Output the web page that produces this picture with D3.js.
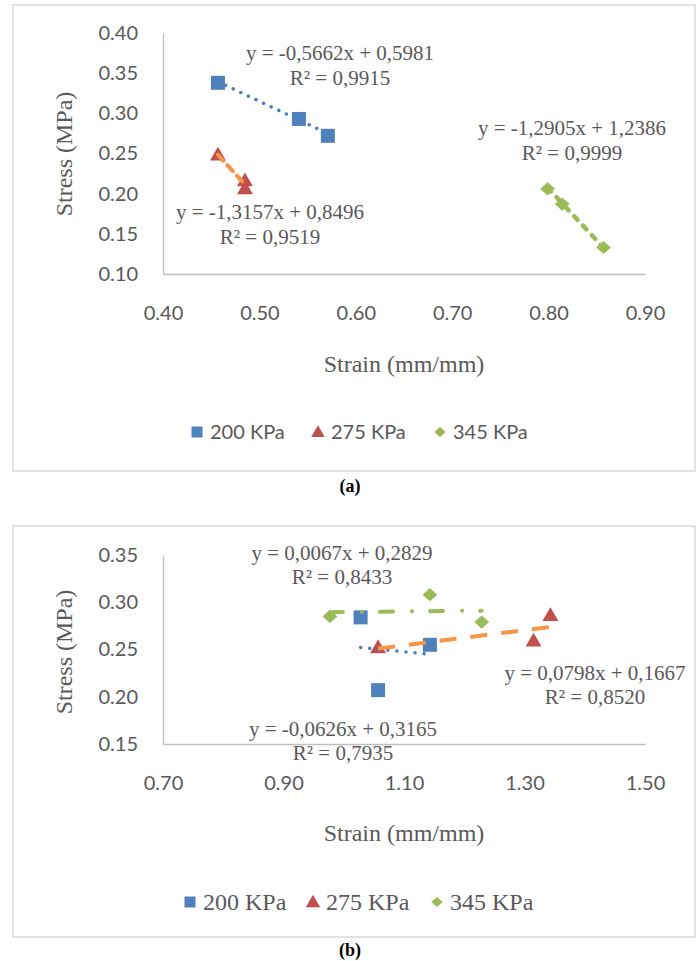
<!DOCTYPE html>
<html>
<head>
<meta charset="utf-8">
<script src="https://cdn.jsdelivr.net/npm/d3@7"></script>
<style>
body { margin: 0; background: #fff; }
</style>
</head>
<body>
<script>
'use strict';

// legend names (same three series in both charts)
const seriesNames = ["200 KPa", "275 KPa", "345 KPa"];

// chart (a)
const aStrain200 = [0.457, 0.541, 0.571];
const aStress200 = [0.338, 0.293, 0.272];
const aStrain275 = [0.457, 0.485, 0.485];
const aStress275 = [0.247, 0.215, 0.205];
const aStrain345 = [0.799, 0.814, 0.857];
const aStress345 = [0.206, 0.187, 0.133];
const aSlopes = [-0.5662, -1.3157, -1.2905];
const aIntercepts = [0.5981, 0.8496, 1.2386];
const aR2 = ["0,9915", "0,9519", "0,9999"];
const aXTicks = [0.40, 0.50, 0.60, 0.70, 0.80, 0.90];
const aYTicks = [0.10, 0.15, 0.20, 0.25, 0.30, 0.35, 0.40];

// chart (b)
const bStrain200 = [1.028, 1.143, 1.057];
const bStress200 = [0.284, 0.255, 0.207];
const bStrain275 = [1.057, 1.315, 1.343];
const bStress275 = [0.251, 0.258, 0.285];
const bStrain345 = [0.977, 1.143, 1.229];
const bStress345 = [0.285, 0.308, 0.279];
const bSlopes = [-0.0626, 0.0798, 0.0067];
const bIntercepts = [0.3165, 0.1667, 0.2829];
const bR2 = ["0,7935", "0,8520", "0,8433"];
const bXTicks = [0.70, 0.90, 1.10, 1.30, 1.50];
const bYTicks = [0.15, 0.20, 0.25, 0.30, 0.35];

let width = 699,
    height = 961,
    serif = "'Liberation Serif', 'Times New Roman', serif",
    sans = "Lato, 'Open Sans', sans-serif",
    grey = "#595959",
    axisColor = "#BFBFBF",
    markerColors = ["#4F81BD", "#C0504D", "#9BBB59"],
    lineColors = ["#4F81BD", "#F79646", "#9BBB59"],
    svg = d3.select("body").append("svg")
            .attr("width", width)
            .attr("height", height);

svg.append("rect")
    .attr("width", width)
    .attr("height", height)
    .attr("fill", "#fff");

// diamond marker: square turned 45 degrees
const symbolRhomb = {
  draw(ctx, size) {
    let r = Math.sqrt(size) / 2;
    ctx.moveTo(0, -r * 0.93);
    ctx.lineTo(r * 1.05, 0);
    ctx.lineTo(0, r * 0.93);
    ctx.lineTo(-r * 1.05, 0);
    ctx.closePath();
  }
};
const symbolTypes = [d3.symbolSquare, d3.symbolTriangle, symbolRhomb];

function num(v) {
  return d3.format(".4f")(Math.abs(v)).replace(".", ",");
}
function equation(m, b) {
  return "y = " + (m < 0 ? "-" : "") + num(m) + "x " + (b < 0 ? "- " : "+ ") + num(b);
}

function drawChart(cfg) {
  let g = svg.append("g");

  g.append("rect")
      .attr("x", cfg.frame[0]).attr("y", cfg.frame[1])
      .attr("width", cfg.frame[2]).attr("height", cfg.frame[3])
      .attr("fill", "none")
      .attr("stroke", "#D9D9D9")
      .attr("stroke-width", 1.5);

  let x = d3.scaleLinear().domain(cfg.xDomain).range([cfg.plot.left, cfg.plot.right]),
      y = d3.scaleLinear().domain(cfg.yDomain).range([cfg.plot.bottom, cfg.plot.top]);

  let xAxis = g.append("g")
      .attr("transform", `translate(0,${cfg.plot.bottom})`)
      .call(d3.axisBottom(x).tickValues(cfg.xTicks).tickFormat(d3.format(".2f"))
              .tickSize(0).tickSizeOuter(0));
  xAxis.selectAll("text").attr("y", 39).attr("dy", "0.35em");

  let yAxis = g.append("g")
      .attr("transform", `translate(${cfg.plot.left},0)`)
      .call(d3.axisLeft(y).tickValues(cfg.yTicks).tickFormat(d3.format(".2f"))
              .tickSize(0).tickSizeOuter(0).tickPadding(25));

  g.selectAll(".domain").attr("stroke", axisColor).attr("stroke-width", 1.3);
  g.selectAll(".tick text")
      .attr("fill", grey)
      .style("font-family", sans)
      .style("font-size", "20px");

  // axis titles
  g.append("text")
      .attr("transform", `translate(${cfg.yTitle[0]},${cfg.yTitle[1]}) rotate(-90)`)
      .attr("text-anchor", "middle")
      .attr("dy", "0.35em")
      .style("font-family", serif).style("font-size", "24px")
      .attr("fill", grey)
      .text("Stress (MPa)");
  g.append("text")
      .attr("x", cfg.xTitle[0]).attr("y", cfg.xTitle[1])
      .attr("text-anchor", "middle")
      .attr("dy", "0.35em")
      .style("font-family", serif).style("font-size", "24px")
      .attr("fill", grey)
      .text("Strain (mm/mm)");

  // markers
  cfg.series.forEach((s, i) => {
    g.selectAll(null)
      .data(d3.zip(s.strain, s.stress))
      .join("path")
        .attr("transform", d => `translate(${x(d[0])},${y(d[1])})`)
        .attr("d", d3.symbol(symbolTypes[i], cfg.markerSizes[i]))
        .attr("fill", markerColors[i]);
  });

  // linear trendlines over the data range
  let line = d3.line().x(d => x(d[0])).y(d => y(d[1]));
  cfg.series.forEach((s, i) => {
    let ext = d3.extent(s.strain);
    g.append("path")
        .attr("d", line(ext.map(v => [v, s.slope * v + s.intercept])))
        .attr("fill", "none")
        .attr("stroke", lineColors[i])
        .attr("stroke-width", cfg.dash[i][1])
        .attr("stroke-linecap", cfg.dash[i][2])
        .attr("stroke-dasharray", cfg.dash[i][0]);

    let lab = g.append("text")
        .attr("text-anchor", "middle")
        .style("font-family", serif).style("font-size", "21px")
        .attr("fill", grey);
    lab.append("tspan")
        .attr("x", cfg.eqPos[i][0]).attr("y", cfg.eqPos[i][1]).attr("dy", "0.35em")
        .text(equation(s.slope, s.intercept));
    lab.append("tspan")
        .attr("x", cfg.eqPos[i][0]).attr("y", cfg.eqPos[i][1] + cfg.eqGap).attr("dy", "0.35em")
        .text("R\u00B2 = " + s.r2);
  });

  // legend
  seriesNames.forEach((name, i) => {
    g.append("path")
        .attr("transform", `translate(${cfg.legendX[i]},${cfg.legendY + (i == 1 ? 1 : 0)})`)
        .attr("d", d3.symbol(symbolTypes[i], cfg.legendSizes[i]))
        .attr("fill", markerColors[i]);
    g.append("text")
        .attr("x", cfg.legendX[i] + cfg.legendTextGap)
        .attr("y", cfg.legendY)
        .attr("dy", "0.35em")
        .style("font-family", cfg.legendFont[0]).style("font-size", cfg.legendFont[1])
        .attr("fill", grey)
        .text(name);
  });

  svg.append("text")
      .attr("x", 350).attr("y", cfg.caption)
      .attr("text-anchor", "middle")
      .attr("dy", "0.35em")
      .style("font-family", serif).style("font-size", "18px").style("font-weight", "bold")
      .attr("fill", "#000")
      .text(cfg.captionText);
}

drawChart({
  frame: [13, 5, 682, 466],
  plot: {left: 163, right: 645, top: 33, bottom: 274},
  xDomain: [0.4, 0.9], yDomain: [0.1, 0.4],
  xTicks: aXTicks, yTicks: aYTicks,
  series: [
    {strain: aStrain200, stress: aStress200, slope: aSlopes[0], intercept: aIntercepts[0], r2: aR2[0]},
    {strain: aStrain275, stress: aStress275, slope: aSlopes[1], intercept: aIntercepts[1], r2: aR2[1]},
    {strain: aStrain345, stress: aStress345, slope: aSlopes[2], intercept: aIntercepts[2], r2: aR2[2]}
  ],
  markerSizes: [196, 110, 200],
  dash: [["0.1,8.3", 3.5, "round"], ["8,6", 4, "round"], ["5,8", 4.5, "round"]],
  eqPos: [[340, 53], [270, 212], [572, 128]], eqGap: 25,
  yTitle: [64, 154], xTitle: [404, 364],
  legendX: [197, 318, 440], legendY: 432, legendTextGap: 13,
  legendSizes: [121, 80, 120], legendFont: [sans, "20px"],
  caption: 486, captionText: "(a)"
});

drawChart({
  frame: [13, 526, 682, 411],
  plot: {left: 163, right: 645, top: 555, bottom: 744},
  xDomain: [0.7, 1.5], yDomain: [0.15, 0.35],
  xTicks: bXTicks, yTicks: bYTicks,
  series: [
    {strain: bStrain200, stress: bStress200, slope: bSlopes[0], intercept: bIntercepts[0], r2: bR2[0]},
    {strain: bStrain275, stress: bStress275, slope: bSlopes[1], intercept: bIntercepts[1], r2: bR2[1]},
    {strain: bStrain345, stress: bStress345, slope: bSlopes[2], intercept: bIntercepts[2], r2: bR2[2]}
  ],
  markerSizes: [196, 110, 200],
  dash: [["0.1,9", 3.5, "round"], ["17,14", 4, "butt"], ["13,19,0.1,18", 4, "round"]],
  eqPos: [[343, 729], [595, 673], [342, 553]], eqGap: 24,
  yTitle: [64, 652], xTitle: [404, 833],
  legendX: [190, 313, 437], legendY: 902, legendTextGap: 13,
  legendSizes: [121, 90, 120], legendFont: [serif, "24px"],
  caption: 950, captionText: "(b)"
});
</script>
</body>
</html>
